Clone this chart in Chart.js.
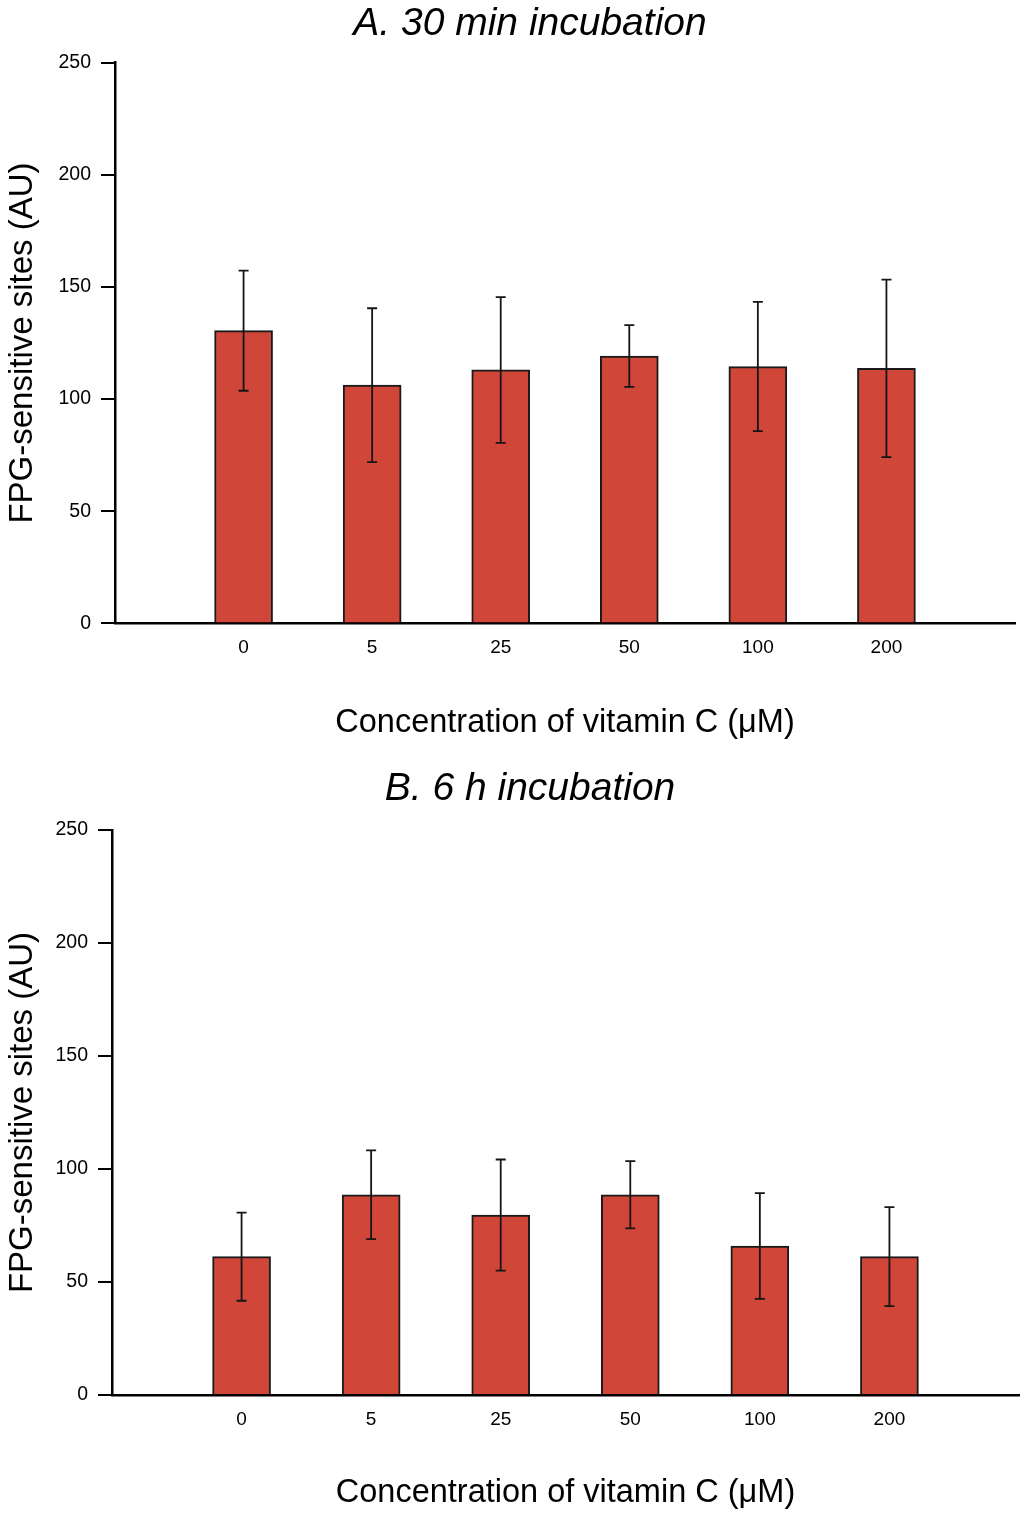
<!DOCTYPE html>
<html>
<head>
<meta charset="utf-8">
<script src="https://cdn.jsdelivr.net/npm/chart.js@4"></script>
<style>
  html,body{margin:0;padding:0;background:#fff;}
  body{width:1024px;height:1521px;position:relative;overflow:hidden;}
  canvas{position:absolute;left:0;}
  .ttl{position:absolute;left:530px;transform:translateX(-50%);white-space:nowrap;
       font:italic 39px/39px "Liberation Sans", Arial, Helvetica, sans-serif;color:#000;}
</style>
</head>
<body>
<canvas id="chartA" width="1024" height="750" style="top:0;width:1024px;height:750px"></canvas>
<canvas id="chartB" width="1024" height="756" style="top:765px;width:1024px;height:756px"></canvas>
<div class="ttl" style="top:2px">A. 30 min incubation</div>
<div class="ttl" style="top:767px">B. 6 h incubation</div>
<script>
/* data */
const concentrations=['0','5','25','50','100','200'];
const yTicks=[0,50,100,150,200,250];
const meanA=[130.5,106.2,113.0,119.2,114.5,113.7];   // 30 min incubation
const errA =[26.8,34.3,32.5,13.8,28.8,39.6];
const meanB=[61.2,88.6,79.6,88.6,65.9,61.2];        // 6 h incubation
const errB =[19.5,19.6,24.6,14.9,23.4,21.9];

const FONT='"Liberation Sans", Arial, Helvetica, sans-serif';
Chart.defaults.font.family=FONT;
Chart.defaults.color='#000';

/* error bars, drawn over the bars from the y scale */
const errorBars={
  id:'errorBars',
  afterDatasetsDraw(chart){
    const errs=chart.options.plugins.errorBars.errors;
    const meta=chart.getDatasetMeta(0), y=chart.scales.y, ctx=chart.ctx;
    const vals=chart.data.datasets[0].data;
    ctx.save();
    ctx.strokeStyle='#151515';ctx.lineWidth=1.8;
    meta.data.forEach((bar,i)=>{
      const v=vals[i], e=errs[i];
      if(v==null||e==null)return;
      const x=bar.x, yt=y.getPixelForValue(v+e), yb=y.getPixelForValue(v-e), cap=5;
      ctx.beginPath();
      ctx.moveTo(x,yt);ctx.lineTo(x,yb);
      ctx.moveTo(x-cap,yt);ctx.lineTo(x+cap,yt);
      ctx.moveTo(x-cap,yb);ctx.lineTo(x+cap,yb);
      ctx.stroke();
    });
    ctx.restore();
  }
};

function makeChart(id,means,errs,g){
  const labels=['',...concentrations,''];
  const data=[null,...means,null];
  const errors=[null,...errs,null];
  return new Chart(document.getElementById(id),{
    type:'bar',
    data:{labels,datasets:[{
      data,backgroundColor:'#d0473a',borderColor:'#1a1a1a',borderWidth:2,
      barThickness:58
    }]},
    plugins:[errorBars],
    options:{
      responsive:false,animation:false,
      layout:{padding:{left:0,right:g.right,top:g.top,bottom:0}},
      plugins:{
        legend:{display:false},tooltip:{enabled:false},
        errorBars:{errors}
      },
      scales:{
        x:{
          offset:false,
          grid:{display:true,drawOnChartArea:false,drawTicks:true,tickLength:13,color:'rgba(0,0,0,0)'},
          border:{display:true,color:'#000',width:2.5},
          ticks:{font:{size:19},padding:0,maxRotation:0,autoSkip:false},
          title:{display:true,text:'Concentration of vitamin C (\u03bcM)',
            font:{size:32.5},padding:{top:0,bottom:g.xTitlePad}},
          afterFit(s){s.height=g.xHeight;}
        },
        y:{
          min:0,max:250,
          afterBuildTicks(s){s.ticks=yTicks.map(v=>({value:v}));},
          grid:{drawOnChartArea:false,drawTicks:true,tickLength:14,color:'#000',lineWidth:2},
          border:{display:true,color:'#000',width:2.5},
          ticks:{font:{size:19.5},padding:10},
          title:{display:true,text:'FPG-sensitive sites (AU)',
            font:{size:33},padding:{top:3,bottom:0}},
          afterFit(s){s.width=g.yWidth;}
        }
      }
    }
  });
}

makeChart('chartA',meanA,errA,{right:9,top:62.7,xHeight:126.7,xTitlePad:7,yWidth:115});
makeChart('chartB',meanB,errB,{right:5,top:65,xHeight:126,xTitlePad:8,yWidth:112});
</script>
</body>
</html>
